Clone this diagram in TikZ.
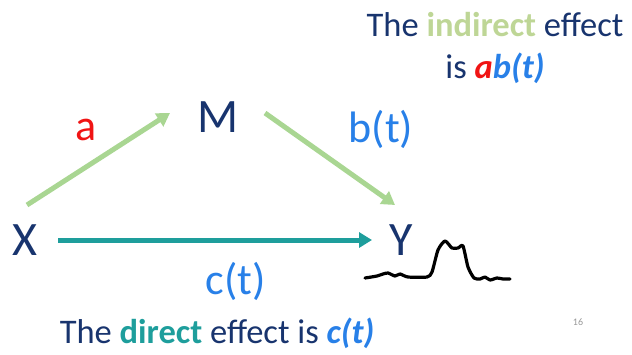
\documentclass[tikz,border=0pt]{standalone}
\usepackage{fontspec}
\setmainfont{Carlito}
\usetikzlibrary{arrows.meta}
\definecolor{navy}{RGB}{24,52,110}
\definecolor{lgreen}{RGB}{169,214,146}
\definecolor{tgreen}{RGB}{190,214,150}
\definecolor{teal2}{RGB}{30,158,156}
\definecolor{lblue}{RGB}{40,128,232}
\definecolor{lred}{RGB}{240,20,20}
\tikzset{
  var/.style={text=navy, font=\fontsize{48}{50}\selectfont, inner sep=0pt},
  lab/.style={font=\fontsize{44}{46}\selectfont, inner sep=0pt},
  ind/.style={draw=lgreen, line width=5pt, -{Triangle[length=13pt,width=15pt]}},
  dir/.style={draw=teal2, line width=5pt, -{Triangle[length=13pt,width=15pt]}},
  caption/.style={text=navy, font=\fontsize{34.5}{36}\selectfont, inner sep=0pt},
}
\begin{document}
\begin{tikzpicture}[x=1pt,y=-1pt]
\useasboundingbox (0,0) rectangle (632,354);
\node[var] (X) at (25,240) {X};
\node[var] (M) at (218,117) {M};
\node[var] (Y) at (401,240) {Y};
\draw[ind] ([shift={(2,-35)}]X.center) -- ([shift={(-48,-4)}]M.center);
\draw[ind] ([shift={(47,-4)}]M.center) -- ([shift={(-6,-35)}]Y.center);
\draw[dir] ([shift={(33,0)}]X.center) -- ([shift={(-29,0)}]Y.center);
\node[lab, text=lred] (la) at (86,130) {a};
\node[lab, text=lblue] (lb) at (381,129) {b(t)};
\node[lab, text=lblue] (lc) at (236,281) {c(t)};
\node[caption] (t1) at (495,25) {The \textcolor{tgreen}{\textbf{indirect}} effect};
\node[caption] (t2) at (495,68) {is \textbf{\itshape\textcolor{lred}{a}\textcolor{lblue}{b(t)}}};
\node[caption] (t3) at (217,333) {The \textcolor{teal2}{\textbf{direct}} effect is \textcolor{lblue}{\textbf{\itshape c(t)}}};
\node[text=black!40, font=\fontsize{10}{12}\selectfont, inner sep=0pt] (pg) at (578,322) {16};
\draw[black, line width=3.2pt, line cap=round, line join=round]
  plot[smooth, tension=0.4] coordinates {(365,278) (377,276) (383,274) (388,273) (395,276) (400,274) (408,277) (427,277) (432,272) (438,250) (445,241) (452,248) (458,248) (463,246) (468,267) (474,278) (480,279) (485,277) (490,280) (497,278) (503,279) (510,279)};
\end{tikzpicture}
\end{document}
